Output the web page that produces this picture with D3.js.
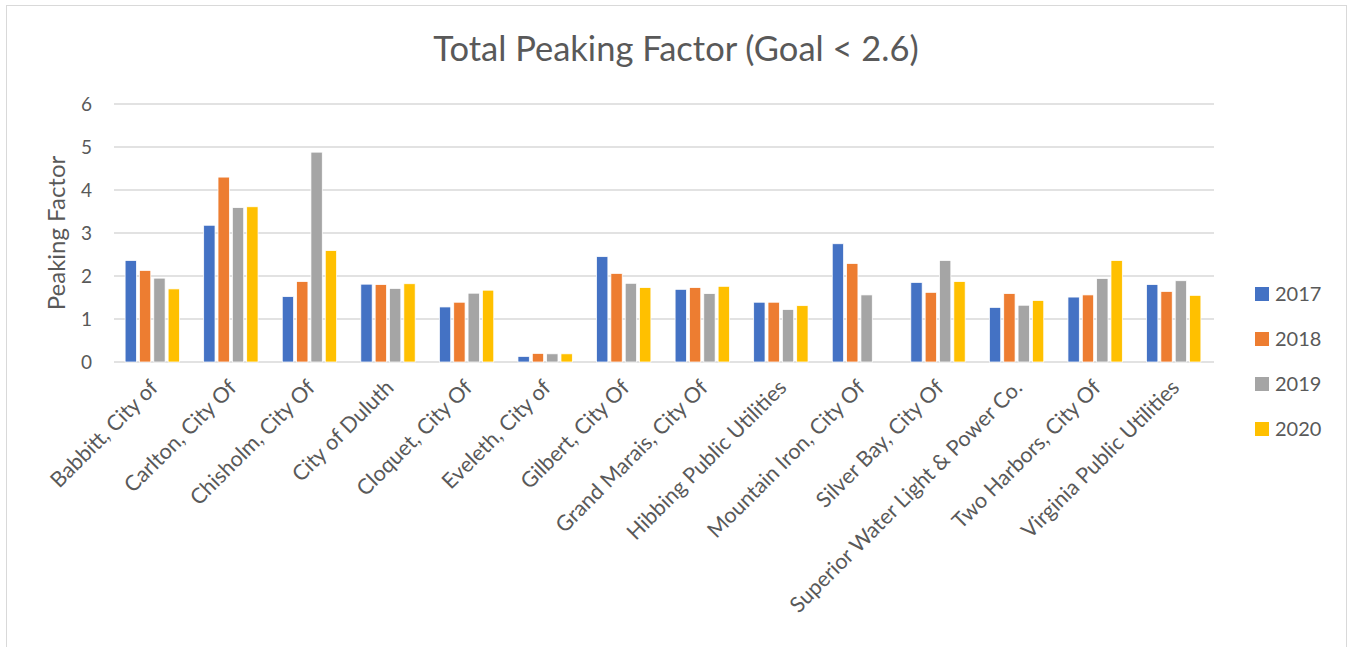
<!DOCTYPE html>
<html>
<head>
<meta charset="utf-8">
<script src="https://cdn.jsdelivr.net/npm/d3@7"></script>
<style>
  body { margin: 0; background: #fff; }
  text { font-family: Lato, "Open Sans", sans-serif; fill: #595959; }
</style>
</head>
<body>
<div id="container"></div>
<script>
/* DATA */
const utilities = [
  "Babbitt, City of", "Carlton, City Of", "Chisholm, City Of", "City of Duluth",
  "Cloquet, City Of", "Eveleth, City of", "Gilbert, City Of", "Grand Marais, City Of",
  "Hibbing Public Utilities", "Mountain Iron, City Of", "Silver Bay, City Of",
  "Superior Water Light & Power Co.", "Two Harbors, City Of", "Virginia Public Utilities"
];
const years = ["2017", "2018", "2019", "2020"];
const values2017 = [2.36, 3.18, 1.52, 1.81, 1.28, 0.13, 2.45, 1.69, 1.39, 2.75, 1.85, 1.27, 1.51, 1.80];
const values2018 = [2.13, 4.30, 1.87, 1.80, 1.39, 0.20, 2.06, 1.73, 1.39, 2.29, 1.62, 1.59, 1.56, 1.64];
const values2019 = [1.95, 3.59, 4.88, 1.71, 1.60, 0.19, 1.83, 1.59, 1.22, 1.56, 2.36, 1.32, 1.94, 1.89];
const values2020 = [1.70, 3.61, 2.59, 1.82, 1.67, 0.19, 1.73, 1.76, 1.31, null, 1.87, 1.43, 2.36, 1.55];
const yTicks = [0, 1, 2, 3, 4, 5, 6];
const colors = ["#4472c4", "#ed7d31", "#a5a5a5", "#ffc000"];

/* CONSTANTS */
const width = 1351,
  height = 647,
  margin = { top: 104, bottom: 285, left: 114, right: 137 };

const seriesByYear = [values2017, values2018, values2019, values2020];
const rows = utilities.map((u, i) => ({
  name: u,
  vals: years.map((y, j) => ({ year: y, value: seriesByYear[j][i] }))
}));

const svg = d3.select("#container")
  .append("svg")
  .attr("width", width)
  .attr("height", height);

// chart frame
svg.append("rect")
  .attr("x", 6.5).attr("y", 5.5)
  .attr("width", 1340).attr("height", 660)
  .attr("fill", "none")
  .attr("stroke", "#d9d9d9");

// + SCALES
const x0 = d3.scaleBand()
  .domain(utilities)
  .range([margin.left, width - margin.right]);

const bw = x0.bandwidth();
const x1 = d3.scaleBand()
  .domain(years)
  .range([bw * 0.135, bw * 0.865]);

const yScale = d3.scaleLinear()
  .domain([0, 6])
  .range([height - margin.bottom, margin.top]);

const colorScale = d3.scaleOrdinal().domain(years).range(colors);

// gridlines
svg.append("g")
  .selectAll("line")
  .data(yTicks)
  .join("line")
  .attr("x1", margin.left)
  .attr("x2", width - margin.right)
  .attr("y1", d => yScale(d))
  .attr("y2", d => yScale(d))
  .attr("stroke", "#d9d9d9")
  .attr("stroke-width", 1.3);

// y axis labels
const yAxis = d3.axisLeft(yScale).tickValues(yTicks).tickFormat(d3.format("d")).tickSize(0).tickPadding(22);
svg.append("g")
  .attr("transform", `translate(${margin.left},0)`)
  .call(yAxis)
  .call(g => g.select(".domain").remove())
  .selectAll("text")
  .attr("font-size", 19)
  .attr("font-family", "Lato, sans-serif")
  .attr("fill", "#595959");

// bars
const groups = svg.append("g")
  .selectAll("g")
  .data(rows)
  .join("g")
  .attr("transform", d => `translate(${x0(d.name)},0)`);

groups.selectAll("rect")
  .data(d => d.vals.filter(v => v.value != null))
  .join("rect")
  .attr("x", d => x1(d.year) + 0.5)
  .attr("width", x1.bandwidth() - 3)
  .attr("y", d => yScale(d.value))
  .attr("height", d => yScale(0) - yScale(d.value))
  .attr("fill", d => colorScale(d.year))
  .attr("stroke", "#fff")
  .attr("stroke-width", 0.75);

// x axis labels
const xAxis = d3.axisBottom(x0).tickSize(0).tickPadding(0);
svg.append("g")
  .attr("transform", `translate(0,${yScale(0)})`)
  .call(xAxis)
  .call(g => g.select(".domain").remove())
  .selectAll("text")
  .attr("font-size", 21.5)
  .attr("font-family", "Lato, sans-serif")
  .attr("fill", "#595959")
  .attr("text-anchor", "end")
  .attr("dy", null)
  .attr("y", null)
  .attr("transform", "translate(6,27) rotate(-45)");

// title
svg.append("text")
  .attr("x", 676)
  .attr("y", 61)
  .attr("text-anchor", "middle")
  .attr("font-size", 34.5)
  .text("Total Peaking Factor (Goal < 2.6)");

// y axis title
svg.append("text")
  .attr("transform", "translate(65,233) rotate(-90)")
  .attr("text-anchor", "middle")
  .attr("font-size", 24)
  .text("Peaking Factor");

// legend
const legend = svg.append("g")
  .selectAll("g")
  .data(years)
  .join("g")
  .attr("transform", (d, i) => `translate(1255,${294 + i * 45})`);

legend.append("rect")
  .attr("x", 0).attr("y", -7)
  .attr("width", 14).attr("height", 14)
  .attr("fill", d => colorScale(d));

legend.append("text")
  .attr("x", 20)
  .attr("y", 7)
  .attr("font-size", 20)
  .text(d => d);
</script>
</body>
</html>
